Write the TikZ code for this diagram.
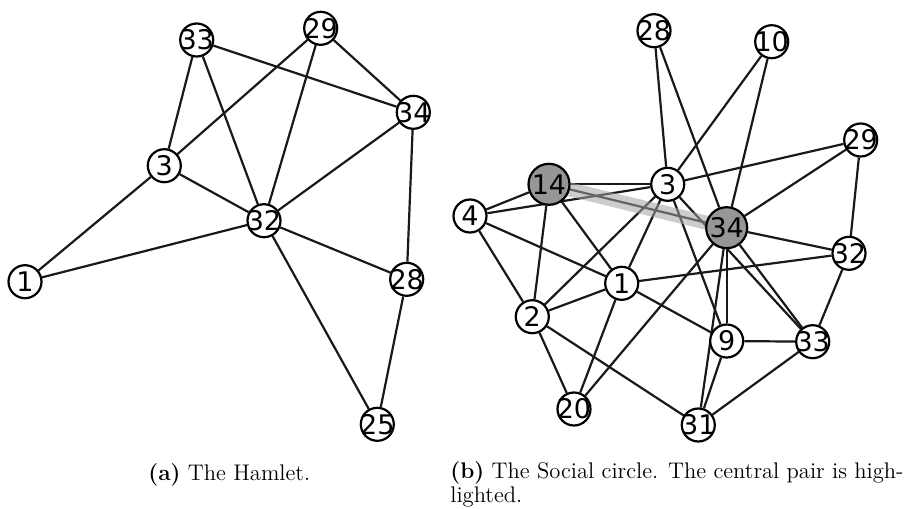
\documentclass[tikz,border=0pt]{standalone}
\usepackage{fontspec}
\usepackage{tikz}
\newfontfamily\labelfont{DejaVu Sans}
\definecolor{hubgray}{RGB}{150,150,150}
\definecolor{bandgray}{RGB}{160,164,164}
\pgfdeclarelayer{edgelayer}
\pgfdeclarelayer{bandlayer}
\pgfsetlayers{edgelayer,bandlayer,main}

\begin{document}
\begin{tikzpicture}[
    x=0.5pt, y=-0.5pt,
    vertex/.style={circle, draw, line width=1.1pt, fill=white, minimum size=16.5pt, inner sep=-2pt, font=\labelfont\fontsize{13.5}{16}\selectfont},
    hub/.style={vertex, fill=hubgray, minimum size=20.5pt},
    edge/.style={draw, line width=1.1pt, color=black!90},
    band/.style={line width=7pt, color=bandgray, opacity=0.55},
    caption/.style={inner sep=0pt, font=\fontsize{11.3}{10.6}\selectfont}
]
\useasboundingbox (0,0) rectangle (907,509);

% The Hamlet: node positions
\node[vertex] (h33) at (196.7, 40) {33};
\node[vertex] (h29) at (320.7, 28.3) {29};
\node[vertex] (h34) at (413.3, 112.3) {34};
\node[vertex] (h3) at (164.3, 165.7) {3};
\node[vertex] (h32) at (264, 220.7) {32};
\node[vertex] (h1) at (25, 281.7) {1};
\node[vertex] (h28) at (406.7, 279.3) {28};
\node[vertex] (h25) at (377.3, 424.3) {25};

% The Social circle: node positions
\node[vertex] (s28) at (654, 30.7) {28};
\node[vertex] (s10) at (771.7, 41.7) {10};
\node[vertex] (s29) at (860.7, 140) {29};
\node[hub] (s14) at (549, 184.3) {14};
\node[vertex] (s3) at (667.7, 184.3) {3};
\node[vertex] (s4) at (470, 216) {4};
\node[hub] (s34) at (726.7, 227.7) {34};
\node[vertex] (s32) at (849, 253.3) {32};
\node[vertex] (s1) at (621.7, 283.3) {1};
\node[vertex] (s2) at (532.3, 316.7) {2};
\node[vertex] (s9) at (726.7, 341) {9};
\node[vertex] (s33) at (812.7, 341.7) {33};
\node[vertex] (s20) at (574, 409) {20};
\node[vertex] (s31) at (698.3, 425) {31};

\begin{pgfonlayer}{edgelayer}
% Hamlet edges
\draw[edge] (h33) -- (h3);
\draw[edge] (h33) -- (h32);
\draw[edge] (h33) -- (h34);
\draw[edge] (h29) -- (h3);
\draw[edge] (h29) -- (h32);
\draw[edge] (h29) -- (h34);
\draw[edge] (h34) -- (h32);
\draw[edge] (h34) -- (h28);
\draw[edge] (h3) -- (h32);
\draw[edge] (h3) -- (h1);
\draw[edge] (h1) -- (h32);
\draw[edge] (h32) -- (h28);
\draw[edge] (h32) -- (h25);
\draw[edge] (h28) -- (h25);

% Social circle edges
\draw[edge] (s28) -- (s3);
\draw[edge] (s28) -- (s34);
\draw[edge] (s10) -- (s3);
\draw[edge] (s10) -- (s34);
\draw[edge] (s29) -- (s3);
\draw[edge] (s29) -- (s34);
\draw[edge] (s29) -- (s32);
\draw[edge] (s14) -- (s3);
\draw[edge] (s14) -- (s4);
\draw[edge] (s14) -- (s2);
\draw[edge] (s14) -- (s1);
\draw[edge] (s14) -- (s34);
\draw[edge] (s4) -- (s3);
\draw[edge] (s4) -- (s1);
\draw[edge] (s4) -- (s2);
\draw[edge] (s3) -- (s2);
\draw[edge] (s3) -- (s1);
\draw[edge] (s3) -- (s9);
\draw[edge] (s3) -- (s33);
\draw[edge] (s34) -- (s32);
\draw[edge] (s34) -- (s9);
\draw[edge] (s34) -- (s33);
\draw[edge] (s34) -- (s31);
\draw[edge] (s34) -- (s20);
\draw[edge] (s32) -- (s1);
\draw[edge] (s32) -- (s33);
\draw[edge] (s1) -- (s2);
\draw[edge] (s1) -- (s20);
\draw[edge] (s1) -- (s9);
\draw[edge] (s2) -- (s20);
\draw[edge] (s2) -- (s31);
\draw[edge] (s9) -- (s33);
\draw[edge] (s9) -- (s31);
\draw[edge] (s33) -- (s31);
\end{pgfonlayer}

% Highlight the central pair
\begin{pgfonlayer}{bandlayer}
\draw[band] (s14.center) -- (s34.center);
\end{pgfonlayer}

% Sub-captions
\node[caption, anchor=base west] (capa) at (148, 480) {\textbf{(a)} The Hamlet.};
\node[caption, anchor=base west, align=left] (capb) at (450, 502) {\textbf{(b)} The Social circle. The central pair is high-\\lighted.};

\end{tikzpicture}
\end{document}
